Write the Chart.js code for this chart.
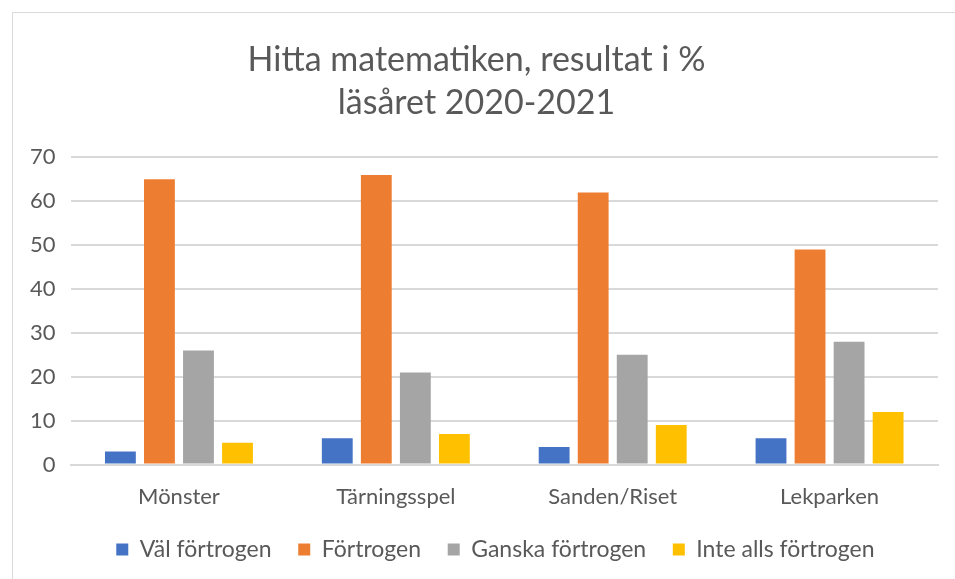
<!DOCTYPE html>
<html>
<head>
<meta charset="utf-8">
<script src="https://cdn.jsdelivr.net/npm/chart.js@4.4.1/dist/chart.umd.min.js"></script>
<style>
    html, body { margin: 0; padding: 0; background: #fff; overflow: hidden; }
    #frame { position: absolute; left: 12px; top: 12px; width: 1000px; height: 1000px; border: 1px solid #d9d9d9; }
    #wrap { position: absolute; left: 0; top: 0; width: 955px; height: 579px; }
</style>
</head>
<body>
<div id="frame"></div>
<div id="wrap"><canvas id="chart"></canvas></div>
<script>
// categories + series
const categories = ['Mönster', 'Tärningsspel', 'Sanden/Riset', 'Lekparken'];
const valFortrogen = [3, 6, 4, 6];
const fortrogen = [65, 66, 62, 49];
const ganskaFortrogen = [26, 21, 25, 28];
const inteAllsFortrogen = [5, 7, 9, 12];
const yTicks = [0, 10, 20, 30, 40, 50, 60, 70];

const textColor = '#595959';
const fontFamily = 'Lato, "Open Sans", sans-serif';

function makeSet(label, data, color) {
    return {
        label: label,
        data: data,
        backgroundColor: color,
        borderWidth: 0,
        barPercentage: 0.79,
        categoryPercentage: 0.72
    };
}

new Chart(document.getElementById('chart').getContext('2d'), {
    type: 'bar',
    data: {
        labels: categories,
        datasets: [
            makeSet('Väl förtrogen', valFortrogen, '#4472C4'),
            makeSet('Förtrogen', fortrogen, '#ED7D31'),
            makeSet('Ganska förtrogen', ganskaFortrogen, '#A5A5A5'),
            makeSet('Inte alls förtrogen', inteAllsFortrogen, '#FFC000')
        ]
    },
    options: {
        responsive: true,
        maintainAspectRatio: false,
        animation: false,
        layout: { padding: { left: 15, right: 17, top: 38, bottom: 8 } },
        plugins: {
            title: {
                display: true,
                text: ['Hitta matematiken, resultat i %', 'läsåret 2020-2021'],
                color: textColor,
                font: { family: fontFamily, size: 34, weight: 'normal', lineHeight: 1.27 },
                padding: { top: 0, bottom: 33 }
            },
            legend: {
                position: 'bottom',
                fullSize: false,
                labels: {
                    color: textColor,
                    font: { family: fontFamily, size: 23 },
                    boxWidth: 12,
                    boxHeight: 12,
                    padding: 9,
                    // wider gaps between legend entries, like the Excel original
                    generateLabels: chart => Chart.defaults.plugins.legend.labels.generateLabels(chart)
                        .map(item => Object.assign(item, { text: item.text + '   ' }))
                }
            },
            tooltip: { enabled: false }
        },
        scales: {
            y: {
                min: 0,
                max: 70,
                afterBuildTicks: axis => { axis.ticks = yTicks.map(v => ({ value: v })); },
                grid: { color: '#d9d9d9', lineWidth: 2, drawTicks: false },
                border: { display: false },
                ticks: { color: textColor, font: { family: fontFamily, size: 22 }, padding: 15 }
            },
            x: {
                grid: { display: false, drawTicks: false },
                border: { color: '#d9d9d9', width: 2 },
                ticks: { color: textColor, font: { family: fontFamily, size: 22 }, padding: 19 }
            }
        }
    }
});
</script>
</body>
</html>
